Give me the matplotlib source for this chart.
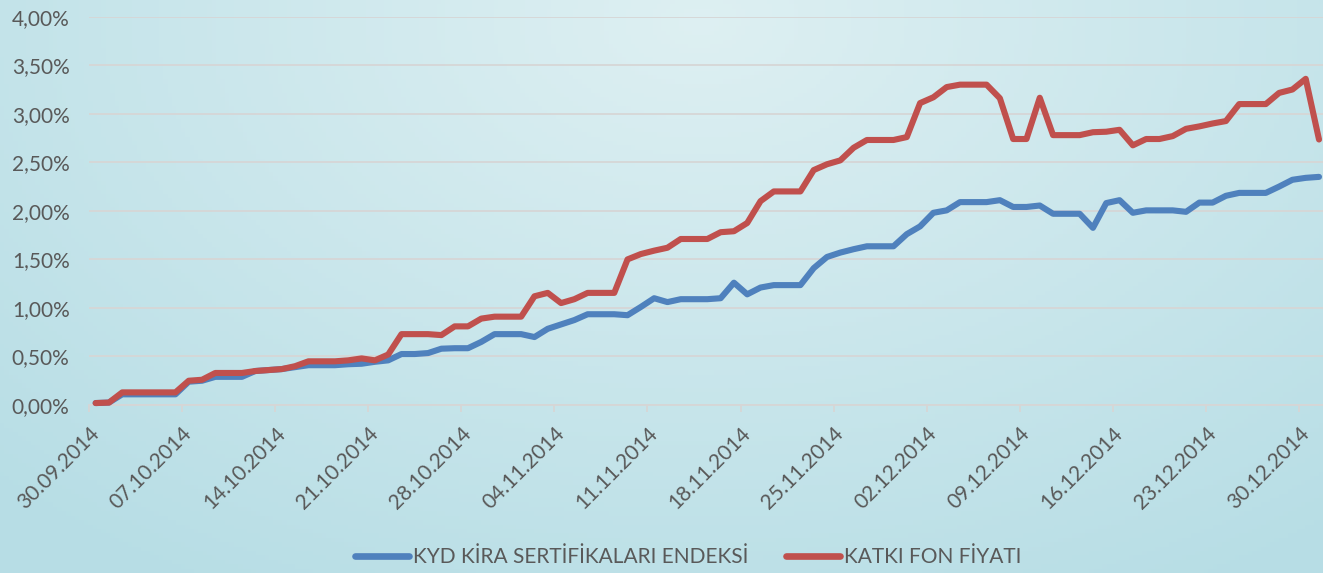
import numpy as np
import pandas as pd
import matplotlib
matplotlib.use('Agg')
import matplotlib.pyplot as plt
import matplotlib.transforms as mtransforms
from matplotlib.ticker import FuncFormatter

## chart data: daily values in percent, 30.09.2014 - 31.12.2014
dates = pd.date_range('2014-09-30', '2014-12-31', freq='D')

kyd = [0.02, 0.025, 0.11, 0.11, 0.11, 0.11, 0.11, 0.24, 0.25, 0.29,
       0.29, 0.29, 0.35, 0.36, 0.37, 0.39, 0.41, 0.41, 0.41, 0.42,
       0.425, 0.445, 0.46, 0.525, 0.525, 0.535, 0.58, 0.585, 0.585, 0.65,
       0.73, 0.73, 0.73, 0.70, 0.785, 0.83, 0.875, 0.935, 0.935, 0.935,
       0.925, 1.01, 1.10, 1.06, 1.09, 1.09, 1.09, 1.10, 1.26, 1.14,
       1.21, 1.235, 1.235, 1.235, 1.41, 1.525, 1.57, 1.605, 1.635, 1.635,
       1.635, 1.76, 1.84, 1.98, 2.005, 2.09, 2.09, 2.09, 2.11, 2.04,
       2.04, 2.055, 1.97, 1.97, 1.97, 1.825, 2.08, 2.11, 1.98, 2.005,
       2.005, 2.005, 1.99, 2.085, 2.085, 2.155, 2.185, 2.185, 2.185, 2.25,
       2.32, 2.34, 2.35]

katki = [0.02, 0.025, 0.13, 0.13, 0.13, 0.13, 0.13, 0.25, 0.26, 0.33,
         0.33, 0.33, 0.35, 0.36, 0.37, 0.40, 0.45, 0.45, 0.45, 0.46,
         0.48, 0.46, 0.52, 0.73, 0.73, 0.73, 0.72, 0.81, 0.81, 0.89,
         0.91, 0.91, 0.91, 1.12, 1.155, 1.05, 1.09, 1.155, 1.155, 1.155,
         1.50, 1.555, 1.59, 1.62, 1.71, 1.71, 1.71, 1.78, 1.79, 1.875,
         2.10, 2.20, 2.20, 2.20, 2.42, 2.48, 2.52, 2.65, 2.73, 2.73,
         2.73, 2.76, 3.11, 3.17, 3.275, 3.30, 3.30, 3.30, 3.16, 2.74,
         2.74, 3.165, 2.78, 2.78, 2.78, 2.81, 2.815, 2.835, 2.675, 2.74,
         2.74, 2.77, 2.845, 2.87, 2.90, 2.925, 3.10, 3.10, 3.10, 3.215,
         3.25, 3.36, 2.735]

tick_labels = ['30.09.2014', '07.10.2014', '14.10.2014', '21.10.2014', '28.10.2014',
               '04.11.2014', '11.11.2014', '18.11.2014', '25.11.2014', '02.12.2014',
               '09.12.2014', '16.12.2014', '23.12.2014', '30.12.2014']

series_names = ['KYD KİRA SERTİFİKALARI ENDEKSİ', 'KATKI FON FİYATI']
colors = ['#4F81BD', '#C0504D']
text_color = '#595959'
grid_color = '#D6D6D6'

plt.rcParams['font.family'] = ['Lato', 'DejaVu Sans']

fig = plt.figure(figsize=(13.23, 5.73), dpi=100)

#----- light blue gradient background
bg = fig.add_axes([0, 0, 1, 1], zorder=0)
gx, gy = np.meshgrid(np.linspace(0, 1323, 300), np.linspace(0, 573, 130))
r = np.sqrt(((gx - 700) / 1000) ** 2 + ((gy - 20) / 650) ** 2)
r = np.clip(r, 0, 1)
inner = np.array([0.87, 0.94, 0.95])
outer = np.array([0.72, 0.87, 0.90])
img = inner[None, None, :] * (1 - r[..., None]) + outer[None, None, :] * r[..., None]
bg.imshow(img, aspect='auto', extent=[0, 1, 0, 1], origin='upper')
bg.axis('off')

#----- main plot
ax = fig.add_axes([89 / 1323, 168 / 573, 1 - 89 / 1323, (405 - 16.7) / 573], zorder=1)
ax.patch.set_alpha(0)

x = np.arange(len(dates))
ax.plot(x, kyd, color=colors[0], lw=4.4, solid_joinstyle='round', solid_capstyle='round',
        label=series_names[0], clip_on=False, zorder=3)
ax.plot(x, katki, color=colors[1], lw=4.4, solid_joinstyle='round', solid_capstyle='round',
        label=series_names[1], clip_on=False, zorder=4)

ax.set_xlim(-0.5, 92.3)
ax.set_ylim(0, 4)
ax.set_yticks(np.arange(0, 4.01, 0.5))
ax.yaxis.set_major_formatter(FuncFormatter(lambda v, p: f'{v:.2f}%'.replace('.', ',')))
ax.grid(axis='y', color=grid_color, lw=1.3, zorder=1)
ax.set_axisbelow(True)

# ticks sit at the left edge of each weekly date
tick_pos = np.arange(len(tick_labels)) * 7 - 0.5
ax.set_xticks(tick_pos)
ax.set_xticklabels(tick_labels, rotation=45, ha='right', va='center', rotation_mode='anchor')
ax.tick_params(axis='x', length=5, width=1.3, color=grid_color, labelsize=15,
               labelcolor=text_color, pad=13)
ax.tick_params(axis='y', length=0, labelsize=15, labelcolor=text_color, pad=14)

# nudge the rotated date labels a little to the right
shift = mtransforms.ScaledTranslation(0.07, 0, fig.dpi_scale_trans)
for lbl in ax.get_xticklabels():
    lbl.set_transform(lbl.get_transform() + shift)

for s in ['top', 'right', 'left']:
    ax.spines[s].set_visible(False)
ax.spines['bottom'].set_color(grid_color)
ax.spines['bottom'].set_linewidth(1.3)

leg = fig.legend(loc='center', bbox_to_anchor=(688 / 1323, 1 - 557 / 573), ncol=2,
                 frameon=False, fontsize=15, handlelength=2.6, handletextpad=0.2,
                 columnspacing=1.8, labelcolor=text_color)
for h in leg.legend_handles:
    h.set_linewidth(4.8)

plt.savefig('out.png', dpi=100)
